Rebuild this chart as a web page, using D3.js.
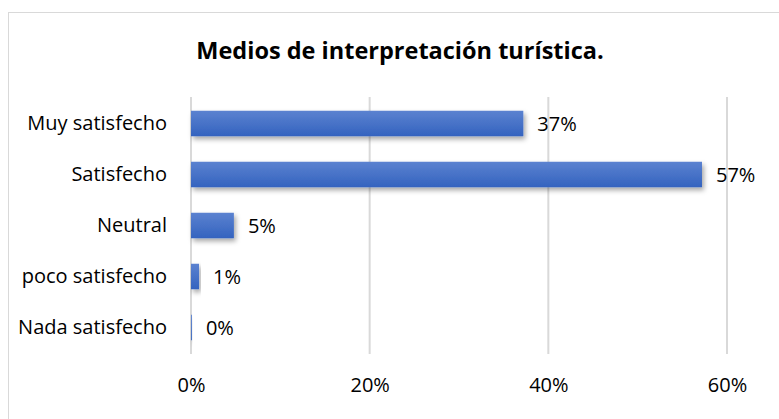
<!DOCTYPE html>
<html>
<head>
<meta charset="utf-8">
<script src="https://cdn.jsdelivr.net/npm/d3@7"></script>
<style>
  html, body { margin: 0; padding: 0; background: #fff; }
  svg { display: block; }
  text { font-family: "Open Sans", sans-serif; }
</style>
</head>
<body>
<svg id="chart" width="779" height="419"></svg>
<script>
const title = "Medios de interpretación turística.";
const categories = ["Muy satisfecho", "Satisfecho", "Neutral", "poco satisfecho", "Nada satisfecho"];
const values = [0.372, 0.572, 0.048, 0.009, 0.001];
const ticks = [0, 0.2, 0.4, 0.6];

const svg = d3.select("#chart");
const W = 779, H = 419;
const x0 = 191, x60 = 727;
const x = d3.scaleLinear().domain([0, 0.6]).range([x0, x60]);
const y = d3.scaleBand().domain(categories).range([98, 353]).paddingInner(0.5).paddingOuter(0.25);

const defs = svg.append("defs");
const grad = defs.append("linearGradient").attr("id", "barGrad").attr("x1", 0).attr("y1", 0).attr("x2", 0).attr("y2", 1);
grad.append("stop").attr("offset", "0%").attr("stop-color", "#5b82d0");
grad.append("stop").attr("offset", "100%").attr("stop-color", "#3463bf");
const filt = defs.append("filter").attr("id", "shadow").attr("x", "-10%").attr("y", "-50%").attr("width", "130%").attr("height", "220%");
filt.append("feDropShadow").attr("dx", 2).attr("dy", 3).attr("stdDeviation", 2.5).attr("flood-color", "#000").attr("flood-opacity", 0.35);

// outer border
svg.append("rect").attr("x", 8.5).attr("y", 12.5).attr("width", W).attr("height", H)
  .attr("fill", "#fff").attr("stroke", "#d9d9d9").attr("stroke-width", 1);

// title
svg.append("text").attr("x", 400).attr("y", 59).attr("text-anchor", "middle")
  .attr("font-size", 23.5).attr("font-weight", "bold").attr("fill", "#000").text(title);

// gridlines
svg.append("g").selectAll("line").data(ticks).join("line")
  .attr("x1", d => x(d)).attr("x2", d => x(d))
  .attr("y1", 97).attr("y2", 354)
  .attr("stroke", "#d9d9d9").attr("stroke-width", 2);

// x axis labels
const xAxis = d3.axisBottom(x).tickValues(ticks).tickFormat(d3.format(".0%")).tickSize(0).tickPadding(0);
const gx = svg.append("g").attr("transform", "translate(0,392)").call(xAxis);
gx.select(".domain").remove();
gx.selectAll("text").attr("font-size", 20).attr("fill", "#000").attr("dy", "0").attr("y", 0)
  .style("font-family", "'Open Sans', sans-serif");

// y axis labels
const yAxis = d3.axisLeft(y).tickSize(0).tickPadding(24);
const gy = svg.append("g").attr("transform", `translate(${x0},0)`).call(yAxis);
gy.select(".domain").remove();
gy.selectAll("text").attr("font-size", 20).attr("fill", "#000")
  .style("font-family", "'Open Sans', sans-serif");

// bars
svg.append("g").selectAll("rect").data(categories).join("rect")
  .attr("x", x(0))
  .attr("y", d => y(d))
  .attr("width", (d, i) => x(values[i]) - x(0))
  .attr("height", y.bandwidth())
  .attr("fill", "url(#barGrad)")
  .attr("filter", "url(#shadow)");

// value labels
svg.append("g").selectAll("text").data(categories).join("text")
  .attr("x", (d, i) => x(values[i]) + 14)
  .attr("y", d => y(d) + y.bandwidth() / 2)
  .attr("dy", "0.35em")
  .attr("font-size", 20).attr("fill", "#000")
  .text((d, i) => d3.format(".0%")(values[i]));
</script>
</body>
</html>
